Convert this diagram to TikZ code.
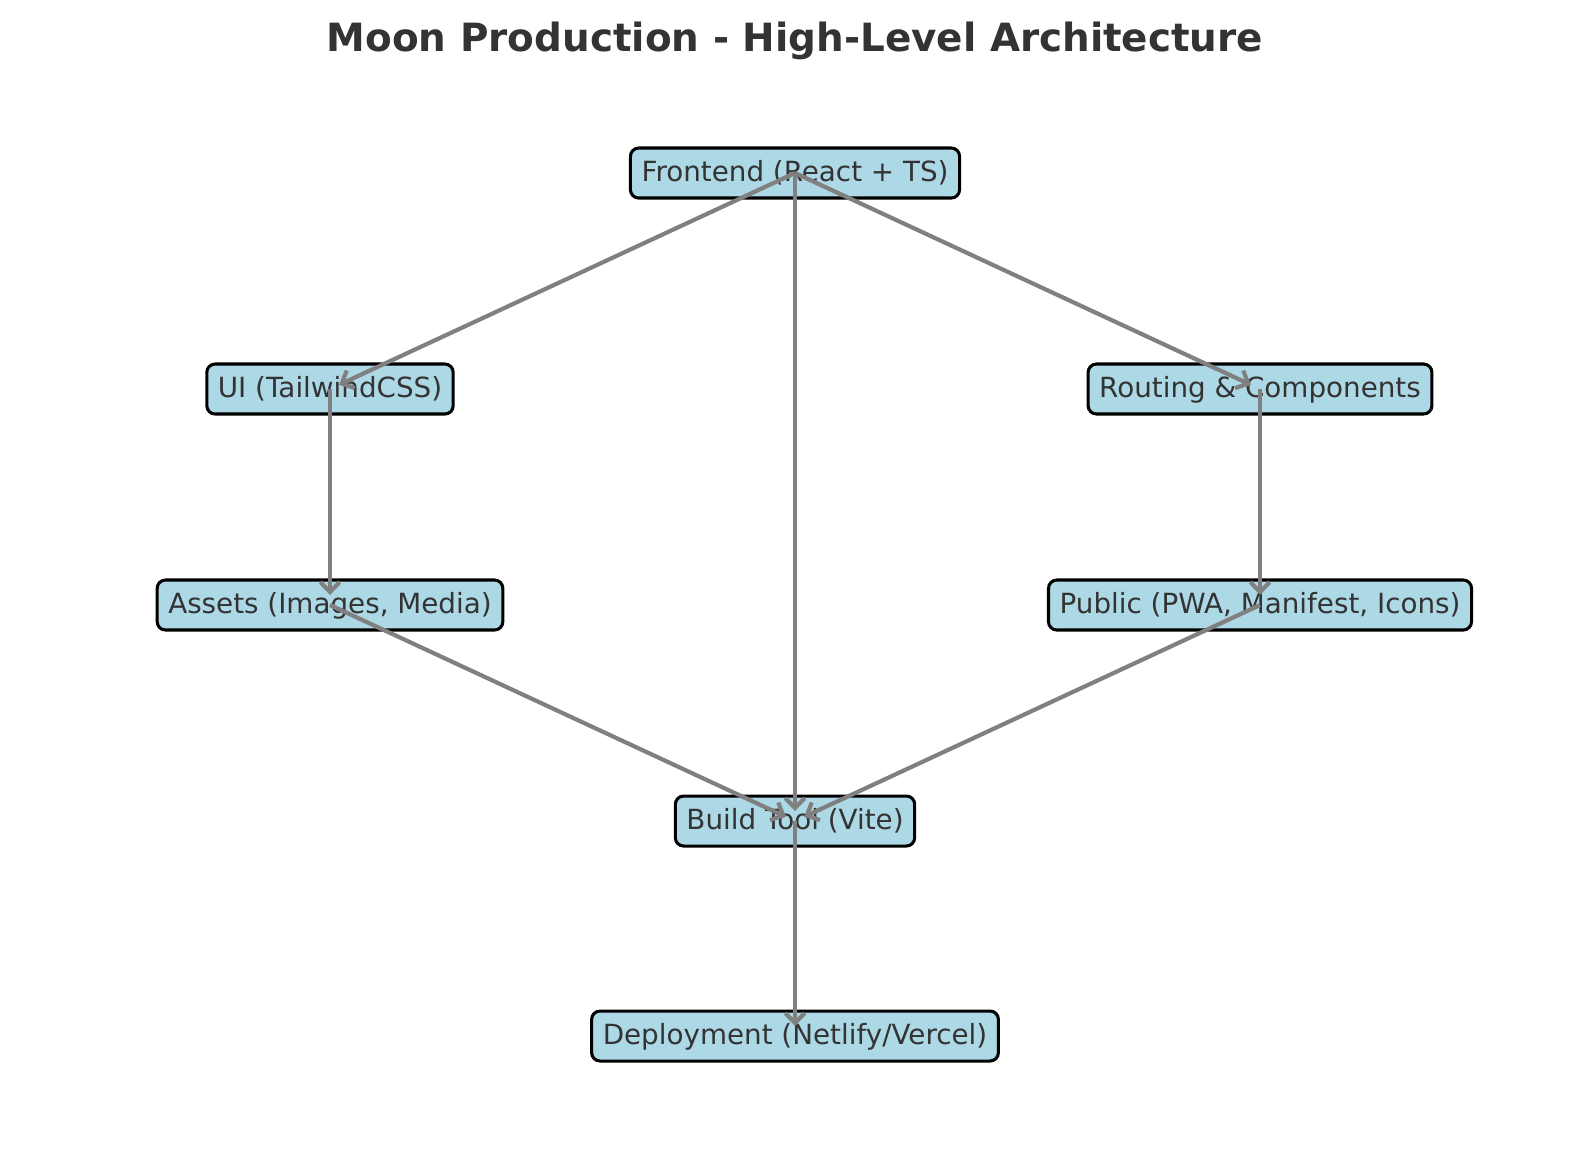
\documentclass[tikz,border=0pt]{standalone}
\usepackage{fontspec}
\setmainfont{DejaVu Sans}
\usetikzlibrary{arrows.meta}
\definecolor{boxblue}{RGB}{173,216,230}
\definecolor{txtgray}{RGB}{51,51,51}
\newcommand {\link}[2] {\draw[edge] (#1.center) -- (#2.center);}

\begin{document}
\begin{tikzpicture}[x=0.36pt,y=-0.36pt,
	comp/.style={draw=black, line width=1.1pt, fill=boxblue, rounded corners=3pt, text=txtgray, font=\fontsize{10}{12}\selectfont, inner xsep=4pt, inner ysep=4pt, text height=8.2pt, text depth=1.8pt},
	edge/.style={draw=gray, line width=1.5pt, -{Straight Barb[length=3.6pt,width=7pt]}, shorten >=3.6pt}]
	\useasboundingbox (0,0) rectangle (1589,1164);
	\node[text=txtgray, font=\bfseries\fontsize{14}{16}\selectfont] (title) at (795,41) {Moon Production - High-Level Architecture};
	\node[comp] (front) at (795,173) {Frontend (React + TS)};
	\node[comp] (ui) at (330,389) {UI (TailwindCSS)};
	\node[comp] (routing) at (1260,389) {Routing \& Components};
	\node[comp] (assets) at (330,605) {Assets (Images, Media)};
	\node[comp] (public) at (1260,605) {Public (PWA, Manifest, Icons)};
	\node[comp] (build) at (795,821) {Build Tool (Vite)};
	\node[comp] (deploy) at (795,1036) {Deployment (Netlify/Vercel)};
	\link{front}{ui}
	\link{front}{routing}
	\link{front}{build}
	\link{ui}{assets}
	\link{routing}{public}
	\link{assets}{build}
	\link{public}{build}
	\link{build}{deploy}
\end{tikzpicture}
\end{document}
